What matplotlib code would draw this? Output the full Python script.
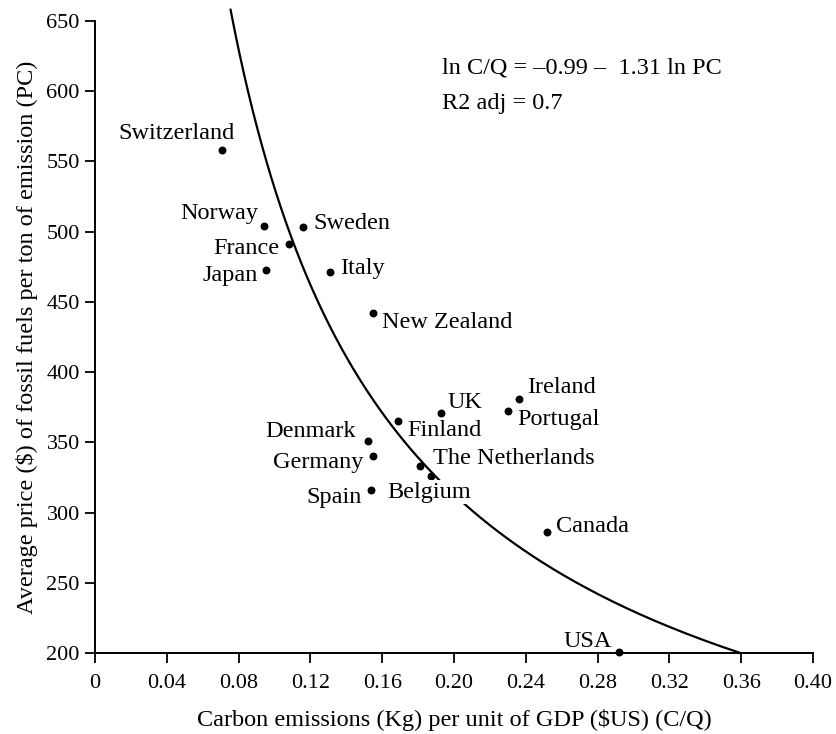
import numpy as np
from matplotlib import pyplot as plt

plt.rcParams['font.family'] = ['Liberation Serif', 'DejaVu Serif']

# Country data
countries = ["Switzerland", "Norway", "Sweden", "France", "Japan", "Italy",
             "New Zealand", "Denmark", "Germany", "Spain", "Finland", "UK",
             "Ireland", "Portugal", "The Netherlands", "Belgium", "Canada", "USA"]
carbon_gdp = [0.071, 0.094, 0.116, 0.108, 0.095, 0.131,
              0.155, 0.152, 0.155, 0.154, 0.169, 0.193,
              0.236, 0.230, 0.181, 0.187, 0.252, 0.292]
price_pc = [558, 504, 503, 491, 473, 471,
            442, 351, 340, 316, 365, 371,
            381, 372, 333, 326, 286, 201]

# label offsets in pixels (dx, dy, horizontal alignment)
label_pos = {
    "Switzerland": (12, 17, "right"),
    "Norway": (-5, 13, "right"),
    "Sweden": (10, 4, "left"),
    "France": (-9, -4, "right"),
    "Japan": (-8, -6, "right"),
    "Italy": (10, 4, "left"),
    "New Zealand": (9, -9, "left"),
    "Denmark": (-12, 9, "right"),
    "Germany": (-10, -6, "right"),
    "Spain": (-10, -7, "right"),
    "Finland": (9, -9, "left"),
    "UK": (6, 10, "left"),
    "Ireland": (9, 11, "left"),
    "Portugal": (9, -8, "left"),
    "The Netherlands": (13, 8, "left"),
    "Belgium": (-43, -16, "left"),
    "Canada": (9, 6, "left"),
    "USA": (-7, 10, "right"),
}

# fitted model: ln C/Q = -0.99 - 1.31 ln PC  (C/Q in grams -> kg scale)
intercept = -0.99
slope = -1.31


def main():
    fig = plt.figure(figsize=(8.36, 7.34), dpi=100)
    ax = fig.add_axes([0.1136, 0.1104, 0.8589, 0.861])

    pc = np.linspace(200, 658, 300)
    cq = 1000 * np.exp(intercept + slope * np.log(pc))
    ax.plot(cq, pc, color="black", lw=1.6, clip_on=False, zorder=2)

    ax.scatter(carbon_gdp, price_pc, s=22, color="black", zorder=3, clip_on=False)

    for name, x, y in zip(countries, carbon_gdp, price_pc):
        dx, dy, ha = label_pos[name]
        kw = {}
        if name == "Belgium":
            kw["bbox"] = dict(facecolor="white", edgecolor="none", pad=1)
        ax.annotate(name, (x, y), xytext=(dx, dy), textcoords="offset pixels",
                    ha=ha, va="center", fontsize=17.5, zorder=4, **kw)

    ax.text(0.483, 0.925, "ln C/Q = \u20130.99 \u2013  1.31 ln PC",
            transform=ax.transAxes, fontsize=17.5, va="center")
    ax.text(0.483, 0.869, "R2 adj = 0.7",
            transform=ax.transAxes, fontsize=17.5, va="center")

    ax.set_xlim(0, 0.40)
    ax.set_ylim(200, 650)
    ax.set_xticks(np.arange(0, 0.401, 0.04))
    ax.set_xticklabels(["0"] + ["%.2f" % v for v in np.arange(0.04, 0.401, 0.04)])
    ax.set_yticks(np.arange(200, 651, 50))

    for s in ["top", "right"]:
        ax.spines[s].set_visible(False)
    for s in ["left", "bottom"]:
        ax.spines[s].set_linewidth(1.4)
    ax.tick_params(direction="out", length=7, width=1.3, labelsize=16, pad=4)
    ax.tick_params(axis="x", pad=8)

    ax.set_xlabel("Carbon emissions (Kg) per unit of GDP ($US) (C/Q)",
                  fontsize=17.5, labelpad=12)
    ax.set_ylabel("Average price ($) of fossil fuels per ton of emission (PC)",
                  fontsize=17.5, labelpad=6)

    fig.savefig("out.png", dpi=100)


if __name__ == "__main__":
    main()
